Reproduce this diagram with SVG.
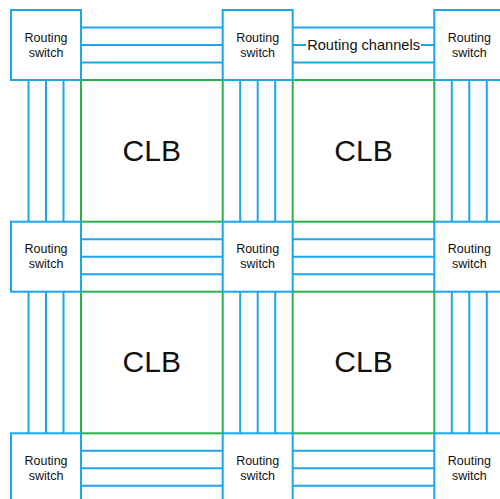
<svg xmlns="http://www.w3.org/2000/svg" width="500" height="499" viewBox="0 0 500 499">
  <style>
    .sw { fill: #ffffff; stroke: #1ba6e6; stroke-width: 2; }
    .clb { fill: #ffffff; stroke: #2bb14b; stroke-width: 2; }
    .ch { stroke: #1ba6e6; stroke-width: 2; fill: none; }
    .swt { font-family: "Liberation Sans", Arial, sans-serif; font-size: 12.5px; fill: #111; text-anchor: middle; }
    .clbt { font-family: "Liberation Sans", Arial, sans-serif; font-size: 30px; fill: #111; text-anchor: middle; }
    .lbl { font-family: "Liberation Sans", Arial, sans-serif; font-size: 14.6px; fill: #111; text-anchor: middle; }
  </style>

  <!-- logic blocks (green) -->
  <g id="clb-1-1"><rect class="clb" x="81" y="80" width="141.7" height="141.7"/><text class="clbt" x="151.8" y="160.5">CLB</text></g>
  <g id="clb-1-2"><rect class="clb" x="292.7" y="80" width="141.6" height="141.7"/><text class="clbt" x="363.5" y="160.5">CLB</text></g>
  <g id="clb-2-1"><rect class="clb" x="81" y="291.7" width="141.7" height="141.6"/><text class="clbt" x="151.8" y="372">CLB</text></g>
  <g id="clb-2-2"><rect class="clb" x="292.7" y="291.7" width="141.6" height="141.6"/><text class="clbt" x="363.5" y="372">CLB</text></g>

  <!-- routing channels -->
  <g id="connectors" class="ch">
    <!-- horizontal channels, row 1 -->
    <path d="M81 27.5H222.7M81 45H222.7M81 62.5H222.7"/>
    <path d="M292.7 27.5H434.3M292.7 45H434.3M292.7 62.5H434.3"/>
    <!-- horizontal channels, row 2 -->
    <path d="M81 239.2H222.7M81 256.7H222.7M81 274.2H222.7"/>
    <path d="M292.7 239.2H434.3M292.7 256.7H434.3M292.7 274.2H434.3"/>
    <!-- horizontal channels, row 3 -->
    <path d="M81 450.8H222.7M81 468.3H222.7M81 485.8H222.7"/>
    <path d="M292.7 450.8H434.3M292.7 468.3H434.3M292.7 485.8H434.3"/>
    <!-- vertical channels, between rows 1 and 2 -->
    <path d="M28.5 80V221.7M46 80V221.7M63.5 80V221.7"/>
    <path d="M240.2 80V221.7M257.7 80V221.7M275.2 80V221.7"/>
    <path d="M451.8 80V221.7M469.3 80V221.7M486.8 80V221.7"/>
    <!-- vertical channels, between rows 2 and 3 -->
    <path d="M28.5 291.7V433.3M46 291.7V433.3M63.5 291.7V433.3"/>
    <path d="M240.2 291.7V433.3M257.7 291.7V433.3M275.2 291.7V433.3"/>
    <path d="M451.8 291.7V433.3M469.3 291.7V433.3M486.8 291.7V433.3"/>
  </g>

  <!-- channel caption -->
  <g id="channel-label">
    <rect x="306" y="36" width="115" height="18" fill="#ffffff"/>
    <text class="lbl" x="363.6" y="50">Routing channels</text>
  </g>

  <!-- routing switches -->
  <g id="sw-1-1"><rect class="sw" x="11" y="10" width="70" height="70"/><text class="swt" x="46" y="41.5">Routing</text><text class="swt" x="46" y="56.5">switch</text></g>
  <g id="sw-1-2"><rect class="sw" x="222.7" y="10" width="70" height="70"/><text class="swt" x="257.7" y="41.5">Routing</text><text class="swt" x="257.7" y="56.5">switch</text></g>
  <g id="sw-1-3"><rect class="sw" x="434.3" y="10" width="70" height="70"/><text class="swt" x="469.3" y="41.5">Routing</text><text class="swt" x="469.3" y="56.5">switch</text></g>
  <g id="sw-2-1"><rect class="sw" x="11" y="221.7" width="70" height="70"/><text class="swt" x="46" y="253.2">Routing</text><text class="swt" x="46" y="268.2">switch</text></g>
  <g id="sw-2-2"><rect class="sw" x="222.7" y="221.7" width="70" height="70"/><text class="swt" x="257.7" y="253.2">Routing</text><text class="swt" x="257.7" y="268.2">switch</text></g>
  <g id="sw-2-3"><rect class="sw" x="434.3" y="221.7" width="70" height="70"/><text class="swt" x="469.3" y="253.2">Routing</text><text class="swt" x="469.3" y="268.2">switch</text></g>
  <g id="sw-3-1"><rect class="sw" x="11" y="433.3" width="70" height="70"/><text class="swt" x="46" y="464.8">Routing</text><text class="swt" x="46" y="479.8">switch</text></g>
  <g id="sw-3-2"><rect class="sw" x="222.7" y="433.3" width="70" height="70"/><text class="swt" x="257.7" y="464.8">Routing</text><text class="swt" x="257.7" y="479.8">switch</text></g>
  <g id="sw-3-3"><rect class="sw" x="434.3" y="433.3" width="70" height="70"/><text class="swt" x="469.3" y="464.8">Routing</text><text class="swt" x="469.3" y="479.8">switch</text></g>
</svg>
